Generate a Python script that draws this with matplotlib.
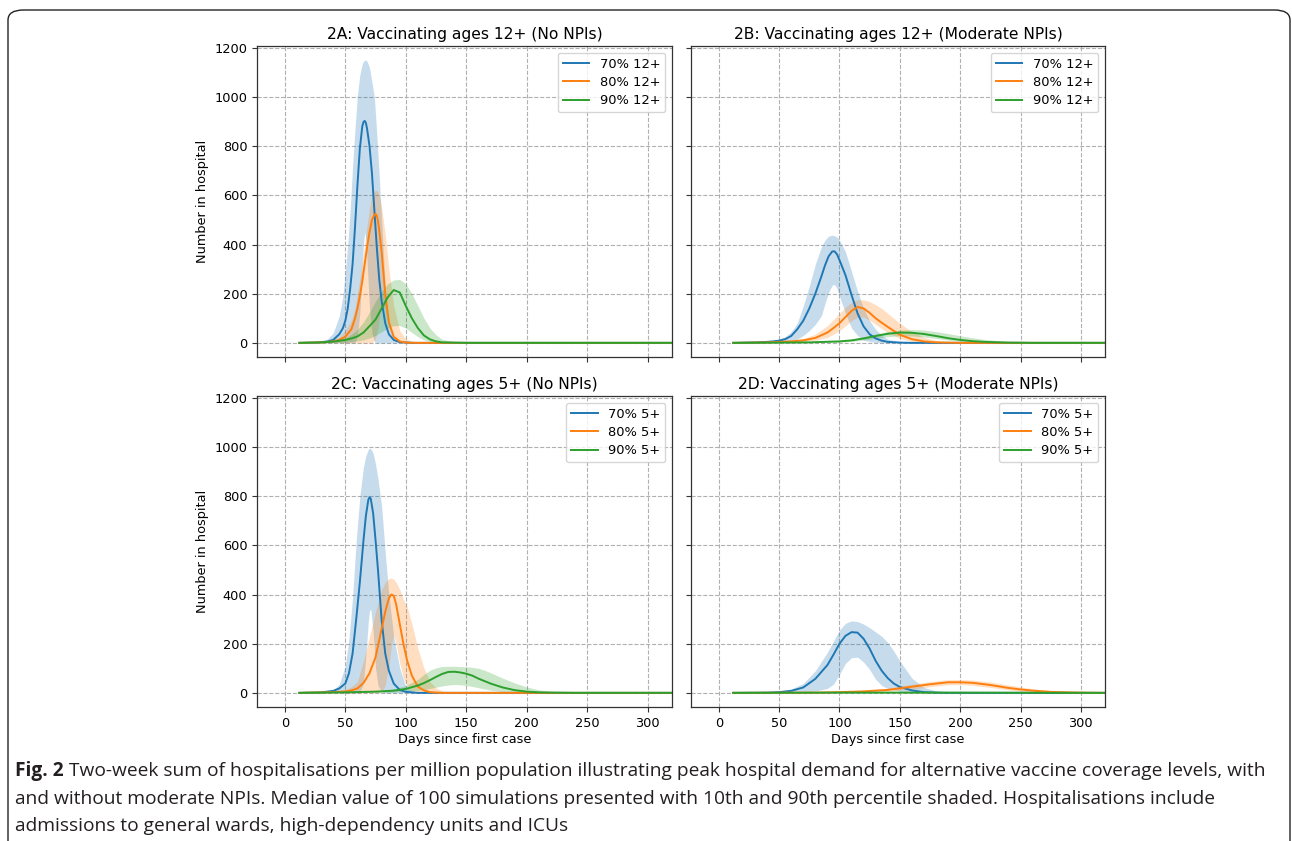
import matplotlib
matplotlib.use("Agg")
import matplotlib.pyplot as plt
from matplotlib import font_manager
from matplotlib.patches import FancyBboxPatch

# ---- data (days since first case, number in hospital) ----

# 2A: ages 12+, no NPIs
a_days_70 = [12, 25, 35, 40, 45, 48, 50, 52, 54, 56, 58, 60, 62, 64, 65, 66, 67, 68, 70, 72, 74, 76, 78, 80, 83, 86, 90, 95, 105, 320]
a_med_70 = [0, 1, 5, 12, 35, 60, 90, 140, 220, 320, 470, 640, 790, 880, 898, 903, 895, 870, 800, 690, 540, 390, 260, 170, 80, 35, 12, 3, 0, 0]
a_hi_70 = [0, 2, 15, 40, 110, 190, 290, 400, 540, 720, 870, 1010, 1090, 1135, 1145, 1150, 1150, 1145, 1120, 1060, 1000, 850, 680, 500, 220, 80, 20, 3, 0, 0]
a_lo_70 = [0, 0, 0, 0, 0, 0, 0, 0, 0, 0, 0, 30, 120, 320, 400, 450, 420, 330, 140, 40, 5, 0, 0, 0, 0, 0, 0, 0, 0, 0]

a_days_80 = [12, 30, 40, 45, 50, 55, 58, 60, 62, 64, 66, 68, 70, 72, 74, 75, 76, 77, 78, 80, 83, 86, 90, 95, 100, 110, 320]
a_med_80 = [0, 2, 6, 12, 25, 55, 100, 140, 190, 250, 320, 390, 450, 500, 520, 525, 518, 495, 460, 370, 200, 85, 25, 6, 1, 0, 0]
a_hi_80 = [0, 3, 12, 25, 50, 90, 140, 200, 260, 330, 400, 480, 550, 600, 618, 620, 620, 615, 600, 550, 440, 300, 150, 50, 15, 0, 0]
a_lo_80 = [0, 0, 0, 0, 0, 0, 0, 0, 0, 0, 0, 0, 0, 0, 10, 20, 40, 60, 100, 150, 140, 55, 15, 2, 0, 0, 0]

a_days_90 = [12, 30, 40, 50, 55, 60, 65, 70, 75, 80, 85, 90, 95, 100, 105, 110, 115, 120, 125, 130, 140, 150, 320]
a_med_90 = [0, 2, 5, 12, 18, 26, 42, 68, 95, 140, 185, 215, 205, 150, 100, 60, 30, 14, 6, 2, 1, 0, 0]
a_hi_90 = [0, 3, 8, 20, 35, 55, 85, 125, 170, 210, 240, 256, 258, 240, 200, 150, 100, 60, 32, 15, 4, 1, 0]
a_lo_90 = [0, 0, 1, 3, 5, 8, 12, 20, 30, 45, 60, 70, 70, 60, 42, 25, 12, 5, 2, 1, 0, 0, 0]

# 2B: ages 12+, moderate NPIs
b_days_70 = [12, 30, 40, 45, 50, 55, 60, 65, 70, 75, 80, 85, 88, 91, 94, 96, 98, 101, 105, 110, 115, 120, 125, 130, 135, 140, 150, 160, 320]
b_med_70 = [0, 2, 4, 6, 9, 15, 28, 55, 90, 140, 200, 270, 315, 352, 372, 372, 360, 325, 275, 195, 120, 67, 35, 18, 9, 4, 1, 0, 0]
b_hi_70 = [0, 3, 6, 10, 15, 25, 45, 80, 150, 230, 320, 390, 418, 434, 438, 436, 430, 410, 370, 290, 210, 140, 90, 55, 30, 15, 5, 1, 0]
b_lo_70 = [0, 0, 0, 1, 2, 4, 8, 15, 30, 50, 75, 110, 160, 205, 235, 237, 220, 175, 120, 60, 30, 12, 5, 2, 1, 0, 0, 0, 0]

b_days_80 = [12, 40, 50, 60, 70, 80, 90, 95, 100, 105, 110, 115, 120, 125, 130, 135, 140, 150, 160, 170, 180, 190, 200, 320]
b_med_80 = [0, 2, 4, 6, 10, 20, 42, 60, 80, 105, 130, 146, 140, 122, 100, 82, 65, 33, 15, 6, 2, 1, 0, 0]
b_hi_80 = [0, 3, 6, 10, 18, 35, 70, 95, 120, 145, 165, 175, 175, 168, 155, 140, 120, 80, 45, 22, 10, 4, 1, 0]
b_lo_80 = [0, 1, 2, 3, 5, 10, 22, 35, 50, 70, 90, 105, 105, 92, 75, 58, 42, 18, 6, 2, 0, 0, 0, 0]

b_days_90 = [12, 50, 75, 100, 110, 120, 130, 140, 150, 160, 170, 180, 190, 200, 210, 220, 240, 260, 320]
b_med_90 = [0, 1, 2, 6, 10, 18, 28, 37, 42, 41, 36, 28, 19, 12, 7, 4, 1, 0, 0]
b_hi_90 = [0, 1, 3, 9, 15, 25, 36, 46, 52, 54, 52, 46, 38, 29, 21, 14, 5, 1, 0]
b_lo_90 = [0, 0, 1, 3, 6, 11, 18, 25, 29, 28, 24, 18, 11, 6, 3, 1, 0, 0, 0]

# 2C: ages 5+, no NPIs
c_days_70 = [12, 30, 40, 45, 50, 53, 56, 59, 62, 65, 67, 69, 70, 71, 73, 75, 77, 80, 83, 86, 90, 95, 100, 110, 320]
c_med_70 = [0, 2, 8, 18, 38, 80, 160, 300, 450, 620, 720, 785, 796, 790, 730, 620, 500, 297, 160, 90, 38, 12, 4, 0, 0]
c_hi_70 = [0, 3, 12, 35, 110, 220, 390, 620, 800, 920, 965, 990, 995, 993, 975, 930, 870, 760, 569, 400, 230, 100, 25, 0, 0]
c_lo_70 = [0, 0, 0, 0, 0, 0, 0, 0, 0, 40, 150, 290, 335, 340, 250, 100, 30, 5, 0, 0, 0, 0, 0, 0, 0]

c_days_80 = [12, 40, 50, 55, 60, 65, 70, 75, 80, 83, 86, 88, 90, 92, 95, 98, 101, 105, 110, 115, 120, 125, 130, 140, 320]
c_med_80 = [0, 3, 6, 10, 18, 40, 80, 145, 260, 330, 385, 400, 395, 360, 280, 200, 133, 70, 25, 10, 3, 1, 0, 0, 0]
c_hi_80 = [0, 4, 12, 25, 45, 130, 230, 330, 420, 450, 465, 467, 462, 450, 420, 380, 351, 280, 180, 100, 45, 20, 8, 1, 0]
c_lo_80 = [0, 0, 0, 0, 0, 0, 0, 0, 5, 30, 110, 190, 235, 200, 120, 60, 30, 12, 4, 1, 0, 0, 0, 0, 0]

c_days_90 = [12, 50, 75, 90, 100, 110, 115, 120, 125, 130, 135, 140, 145, 150, 155, 160, 165, 170, 180, 190, 200, 210, 220, 240, 320]
c_med_90 = [0, 2, 5, 9, 16, 30, 40, 52, 65, 77, 85, 86, 83, 78, 70, 58, 48, 38, 22, 11, 5, 2, 1, 0, 0]
c_hi_90 = [0, 3, 8, 15, 30, 55, 75, 92, 102, 107, 108, 108, 107, 106, 104, 100, 92, 82, 60, 40, 24, 12, 6, 1, 0]
c_lo_90 = [0, 1, 2, 3, 6, 10, 14, 18, 23, 28, 32, 34, 33, 30, 26, 21, 16, 11, 5, 2, 1, 0, 0, 0, 0]

# 2D: ages 5+, moderate NPIs
d_days_70 = [12, 40, 50, 60, 70, 80, 90, 95, 100, 105, 110, 115, 120, 125, 130, 135, 140, 145, 150, 160, 170, 180, 190, 320]
d_med_70 = [0, 1, 3, 8, 22, 57, 113, 155, 200, 232, 247, 245, 220, 180, 130, 90, 60, 38, 24, 10, 3, 1, 0, 0]
d_hi_70 = [0, 2, 6, 16, 38, 90, 165, 210, 255, 283, 293, 290, 280, 265, 248, 230, 205, 170, 130, 60, 22, 8, 2, 0]
d_lo_70 = [0, 0, 0, 1, 3, 7, 18, 35, 75, 120, 143, 145, 125, 95, 55, 30, 18, 12, 7, 3, 1, 0, 0, 0]

d_days_80 = [12, 80, 100, 120, 140, 160, 175, 190, 200, 210, 225, 240, 250, 260, 275, 290, 300, 320]
d_med_80 = [0, 1, 3, 6, 12, 25, 35, 43, 43, 41, 32, 20, 14, 9, 4, 2, 1, 0]
d_hi_80 = [0, 2, 5, 10, 19, 35, 46, 54, 54, 52, 44, 32, 24, 17, 9, 5, 3, 1]
d_lo_80 = [0, 0, 1, 3, 7, 15, 25, 33, 34, 31, 22, 12, 7, 4, 1, 0, 0, 0]

d_days_90 = [12, 100, 200, 320]
d_med_90 = [0, 1, 1, 0]
d_hi_90 = [0, 1, 1, 0]
d_lo_90 = [0, 0, 0, 0]

titles = ["2A: Vaccinating ages 12+ (No NPIs)", "2B: Vaccinating ages 12+ (Moderate NPIs)",
          "2C: Vaccinating ages 5+ (No NPIs)", "2D: Vaccinating ages 5+ (Moderate NPIs)"]
labels_12 = ["70% 12+", "80% 12+", "90% 12+"]
labels_5 = ["70% 5+", "80% 5+", "90% 5+"]
colors = ["#1f77b4", "#ff7f0e", "#2ca02c"]

caption_bold = "Fig. 2"
caption_lines = [
    " Two-week sum of hospitalisations per million population illustrating peak hospital demand for alternative vaccine coverage levels, with",
    "and without moderate NPIs. Median value of 100 simulations presented with 10th and 90th percentile shaded. Hospitalisations include",
    "admissions to general wards, high-dependency units and ICUs",
]

panels = [
    [(a_days_70, a_med_70, a_lo_70, a_hi_70), (a_days_80, a_med_80, a_lo_80, a_hi_80), (a_days_90, a_med_90, a_lo_90, a_hi_90)],
    [(b_days_70, b_med_70, b_lo_70, b_hi_70), (b_days_80, b_med_80, b_lo_80, b_hi_80), (b_days_90, b_med_90, b_lo_90, b_hi_90)],
    [(c_days_70, c_med_70, c_lo_70, c_hi_70), (c_days_80, c_med_80, c_lo_80, c_hi_80), (c_days_90, c_med_90, c_lo_90, c_hi_90)],
    [(d_days_70, d_med_70, d_lo_70, d_hi_70), (d_days_80, d_med_80, d_lo_80, d_hi_80), (d_days_90, d_med_90, d_lo_90, d_hi_90)],
]

W, H = 1292, 841
fig = plt.figure(figsize=(W / 100, H / 100), dpi=100)

# axes boxes in pixels: left, top, right, bottom
boxes = [(257, 46, 672, 357), (691, 46, 1105, 357), (257, 396, 672, 707), (691, 396, 1105, 707)]
axes = []
for l, t, r, b in boxes:
    kw = {}
    if axes:
        kw = dict(sharex=axes[0], sharey=axes[0])
    ax = fig.add_axes([l / W, (H - b) / H, (r - l) / W, (b - t) / H], **kw)
    axes.append(ax)

for i, ax in enumerate(axes):
    labels = labels_12 if i < 2 else labels_5
    for (days, med, lo, hi), lab, col in zip(panels[i], labels, colors):
        ax.fill_between(days, lo, hi, color=col, alpha=0.25, linewidth=0)
        ax.plot(days, med, color=col, lw=1.4, label=lab)
    ax.set_title(titles[i], fontsize=11.2, pad=5)
    ax.grid(True, linestyle="--", color="#b0b0b0", linewidth=0.8)
    ax.set_axisbelow(True)
    ax.legend(loc="upper right", fontsize=9.4, framealpha=0.8, labelspacing=0.4)
    ax.tick_params(labelsize=9.3, length=3.5, width=0.8, color="#333333")
    for s in ax.spines.values():
        s.set_color("#333333")
        s.set_linewidth(0.9)
    if i % 2 == 0:
        ax.set_ylabel("Number in hospital", fontsize=9.3)
    else:
        ax.tick_params(labelleft=False)
    if i >= 2:
        ax.set_xlabel("Days since first case", fontsize=9.3, labelpad=2)
    else:
        ax.tick_params(labelbottom=False)

axes[0].set_xlim(-23, 320)
axes[0].set_ylim(-57.5, 1207.5)
axes[0].set_xticks(range(0, 301, 50))
axes[0].set_yticks(range(0, 1201, 200))

# frame round the whole figure
frame = FancyBboxPatch((8 / W, -0.05), (W - 10) / W, 1 - 10 / H + 0.05,
                       boxstyle="round,pad=0,rounding_size=0.012", transform=fig.transFigure,
                       fill=False, edgecolor="#222222", linewidth=1.0, clip_on=False)
fig.patches.append(frame)

# caption, sized so that the first line spans the same width as in the paper
names = {f.name for f in font_manager.fontManager.ttflist}
cap_font = "Liberation Sans Narrow" if "Liberation Sans Narrow" in names else "Open Sans"
y_lines = [771, 799, 826]
x_start, x_end = 15, 1258
size = 12.0
renderer = fig.canvas.get_renderer()
t0 = fig.text(0, 0, caption_bold, fontsize=size, fontweight="bold", family=cap_font)
t1 = fig.text(0, 0, caption_lines[0], fontsize=size, family=cap_font)
w = t0.get_window_extent(renderer).width + t1.get_window_extent(renderer).width
t0.remove()
t1.remove()
size = size * (x_end - x_start) / w

t0 = fig.text(x_start / W, 1 - y_lines[0] / H, caption_bold, fontsize=size, fontweight="bold",
              family=cap_font, va="center", ha="left", color="#231f20")
ext = t0.get_window_extent(renderer)
fig.text(ext.x1 / W, 1 - y_lines[0] / H, caption_lines[0], fontsize=size, family=cap_font,
         va="center", ha="left", color="#231f20")
for line, y in zip(caption_lines[1:], y_lines[1:]):
    fig.text(x_start / W, 1 - y / H, line, fontsize=size, family=cap_font, va="center", ha="left",
             color="#231f20")

fig.savefig("out.png", dpi=100)
